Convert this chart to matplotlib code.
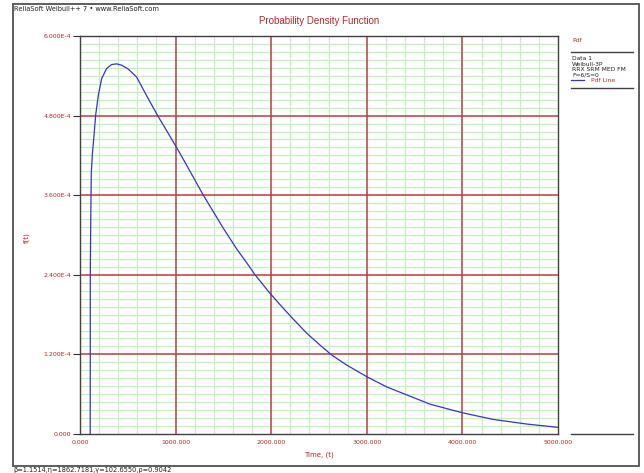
import matplotlib
matplotlib.use('Agg')
import matplotlib.pyplot as plt
from matplotlib.lines import Line2D
from matplotlib.patches import Rectangle

# values
time = [107, 108, 113, 118, 129, 150, 164, 192, 227, 279, 331, 383, 436, 506, 593,
        697, 812, 924, 1046, 1186, 1290, 1395, 1500, 1639, 1744, 1831, 1988, 2092,
        2232, 2371, 2511, 2633, 2789, 3005, 3208, 3417, 3557, 3661, 3999, 4323,
        4672, 5000]
pdf = [0.0, 2.50e-4, 3.30e-4, 3.93e-4, 4.21e-4, 4.56e-4, 4.81e-4, 5.11e-4, 5.36e-4,
       5.51e-4, 5.57e-4, 5.58e-4, 5.56e-4, 5.50e-4, 5.38e-4, 5.10e-4, 4.80e-4,
       4.53e-4, 4.23e-4, 3.87e-4, 3.60e-4, 3.35e-4, 3.10e-4, 2.79e-4, 2.58e-4,
       2.40e-4, 2.12e-4, 1.95e-4, 1.73e-4, 1.52e-4, 1.34e-4, 1.19e-4, 1.04e-4,
       0.86e-4, 0.71e-4, 0.59e-4, 0.51e-4, 0.45e-4, 0.32e-4, 0.22e-4, 0.15e-4,
       0.10e-4]

xticks = [0, 1000, 2000, 3000, 4000, 5000]
xlabels = ['0.000', '1000.000', '2000.000', '3000.000', '4000.000', '5000.000']
yticks = [0, 1.2e-4, 2.4e-4, 3.6e-4, 4.8e-4, 6.0e-4]
ylabels = ['0.000', '1.200E-4', '2.400E-4', '3.600E-4', '4.800E-4', '6.000E-4']
legend_lines = ['Data 1', 'Weibull-3P', 'RRX SRM MED FM', 'F=6/S=0']

red = '#b22a2a'
W, H = 644, 473

fig = plt.figure(figsize=(6.44, 4.73), dpi=100)
fig.patch.set_facecolor('white')

def fx(px):
    return px / W

def fy(py):
    return 1 - py / H

ax = fig.add_axes([fx(80), fy(434), fx(558) - fx(80), fy(36) - fy(434)])
ax.plot(time, pdf, color='#3535c0', lw=0.9, zorder=3)
ax.set_xlim(0, 5000)
ax.set_ylim(0, 6e-4)

# light green minor grid, dark red major lines on top of it
ax.set_xticks([x for x in range(200, 5000, 200) if x % 1000], minor=True)
ax.set_yticks([i * 1.2e-5 for i in range(1, 50) if i % 10], minor=True)
ax.grid(which='minor', color='#c6efc0', lw=0.9)
ax.set_axisbelow(True)
for x in xticks[1:-1]:
    ax.axvline(x, color='#b04040', lw=1.1, zorder=1)
for y in yticks[1:-1]:
    ax.axhline(y, color='#b04040', lw=1.1, zorder=1)

ax.set_xticks(xticks)
ax.set_xticklabels(xlabels)
ax.set_yticks(yticks)
ax.set_yticklabels(ylabels)
ax.tick_params(axis='both', which='minor', length=0)
ax.tick_params(axis='y', which='major', length=5, width=0.8, color='#303030',
               labelsize=4.5, labelcolor=red, pad=1.5)
ax.tick_params(axis='x', which='major', length=0, labelsize=4.5,
               labelcolor=red, pad=4)
for s in ax.spines.values():
    s.set_color('#404040')
    s.set_linewidth(1.0)
    s.set_zorder(4)

ax.set_xlabel('Time, (t)', color=red, fontsize=5, labelpad=5)
fig.text(fx(27), fy(238), 'f(t)', color=red, fontsize=5, rotation=90,
         ha='center', va='center')
ax.set_title('Probability Density Function', color=red, fontsize=7,
             family='Liberation Sans', pad=9)

# outer frame
fig.add_artist(Rectangle((fx(13), fy(466)), fx(639) - fx(13), fy(4) - fy(466),
                         transform=fig.transFigure, fill=False,
                         edgecolor='#505050', lw=1.3))

fig.text(fx(14), fy(9), 'ReliaSoft Weibull++ 7 \u2022 www.ReliaSoft.com',
         fontsize=4.8, va='center', ha='left', color='#202020')
fig.text(fx(13), fy(470), '\u03b2=1.1514,\u03b7=1862.7181,\u03b3=102.6550,\u03c1=0.9042',
         fontsize=4.8, va='center', ha='left', color='#202020')

# legend panel
fig.text(fx(572), fy(40), 'Pdf', color=red, fontsize=4.5, va='center')
for py in (52.5, 88.5, 434):
    fig.add_artist(Line2D([fx(571), fx(633)], [fy(py), fy(py)],
                          transform=fig.transFigure, color='#404040', lw=1.0))
for i, s in enumerate(legend_lines):
    fig.text(fx(572), fy(59 + 5.3 * i), s, fontsize=4.3, va='center',
             color='#202020')
ly = 59 + 5.3 * 4
fig.add_artist(Line2D([fx(571), fx(584)], [fy(ly), fy(ly)],
                      transform=fig.transFigure, color='#3535c0', lw=0.9))
fig.text(fx(591), fy(ly), 'Pdf Line', fontsize=4.3, va='center', color=red)

fig.savefig('out.png', dpi=100)
